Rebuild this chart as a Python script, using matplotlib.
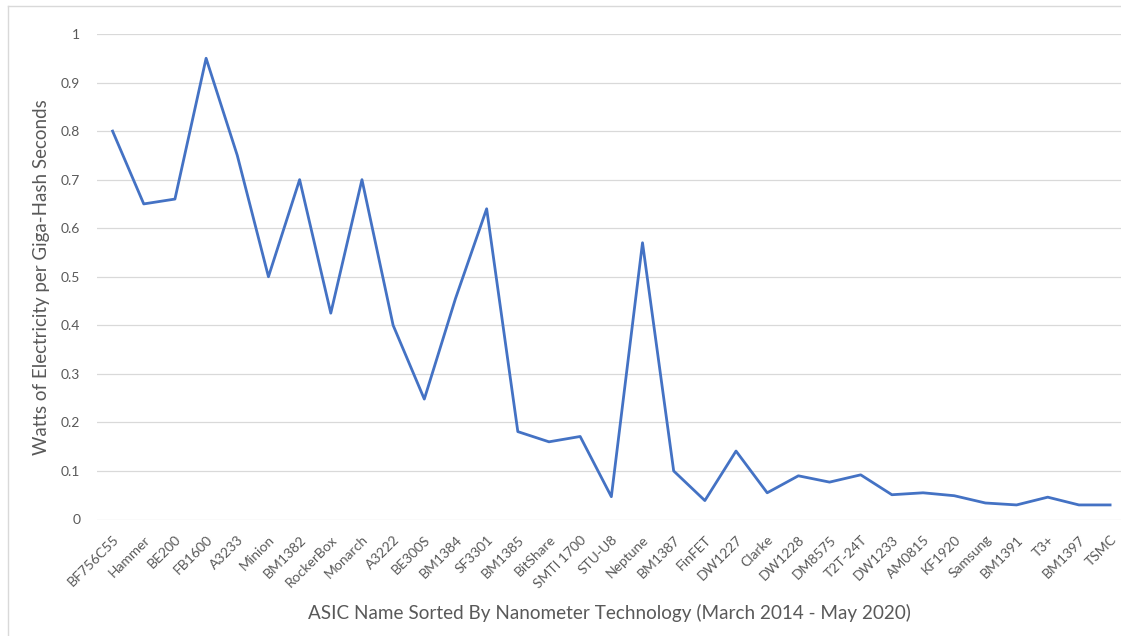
# ASIC efficiency – watts per GH/s, sorted by nanometer technology

import matplotlib.pyplot as plt
from matplotlib.lines import Line2D


# ── Data ──────────────────────────────────────────────────────
asic_names = [
    "BF756C55", "Hammer", "BE200", "FB1600", "A3233", "Minion", "BM1382",
    "RockerBox", "Monarch", "A3222", "BE300S", "BM1384", "SF3301", "BM1385",
    "BitShare", "SMTI 1700", "STU-U8", "Neptune", "BM1387", "FinFET",
    "DW1227", "Clarke", "DW1228", "DM8575", "T2T-24T", "DW1233", "AM0815",
    "KF1920", "Samsung", "BM1391", "T3+", "BM1397", "TSMC",
]
watts_per_ghs = [
    0.80, 0.65, 0.66, 0.95, 0.75, 0.50, 0.70,
    0.425, 0.70, 0.40, 0.248, 0.455, 0.64, 0.181,
    0.16, 0.171, 0.047, 0.57, 0.10, 0.039,
    0.141, 0.055, 0.09, 0.077, 0.092, 0.051, 0.055,
    0.049, 0.034, 0.030, 0.046, 0.030, 0.030,
]
y_ticks = [0, 0.1, 0.2, 0.3, 0.4, 0.5, 0.6, 0.7, 0.8, 0.9, 1]
y_tick_labels = ["0", "0.1", "0.2", "0.3", "0.4", "0.5", "0.6", "0.7", "0.8", "0.9", "1"]

text_grey = "#595959"
plt.rcParams["font.family"] = ["Lato", "DejaVu Sans"]


# ── Chart ─────────────────────────────────────────────────────
fig = plt.figure(figsize=(11.21, 6.36), dpi=100)
# plot area runs to the right edge of the picture (the original is cropped there)
ax = fig.add_axes([97 / 1121, 1 - 519.5 / 636, 1024 / 1121, 485.5 / 636])

x = range(len(asic_names))
ax.plot(x, watts_per_ghs, color="#4472C4", linewidth=2)

ax.set_xlim(-0.5, 32.35)
ax.set_ylim(0, 1)
ax.set_yticks(y_ticks)
ax.set_yticklabels(y_tick_labels)
ax.set_xticks(list(x))
ax.set_xticklabels(asic_names, rotation=45, ha="right", va="top",
                   rotation_mode="anchor")

ax.grid(axis="y", color="#d9d9d9", linewidth=0.9)
ax.set_axisbelow(True)
for side in ax.spines.values():
    side.set_visible(False)
ax.tick_params(axis="both", length=0, colors=text_grey, labelsize=10)
ax.tick_params(axis="y", pad=12)
ax.tick_params(axis="x", pad=10)

ax.set_ylabel("Watts of Electricity per Giga-Hash Seconds", fontsize=13.5,
              color=text_grey, labelpad=8)
ax.set_xlabel("ASIC Name Sorted By Nanometer Technology (March 2014 - May 2020)",
              fontsize=13.6, color=text_grey, labelpad=10)

# light frame of the chart area (top and left edges visible)
fig.add_artist(Line2D([8 / 1121, 1], [1 - 6 / 636, 1 - 6 / 636],
                      transform=fig.transFigure, color="#d9d9d9", linewidth=1))
fig.add_artist(Line2D([8 / 1121, 8 / 1121], [0, 1 - 6 / 636],
                      transform=fig.transFigure, color="#d9d9d9", linewidth=1))

plt.savefig("out.png", dpi=100)
